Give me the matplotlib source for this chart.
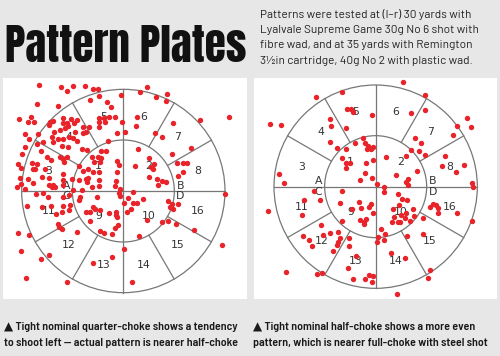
import numpy as np
import matplotlib
matplotlib.use("Agg")
import matplotlib.pyplot as plt
from matplotlib.patches import Circle

# ---------------- data: shot positions on each card (card units, y downward) ----
left_center = (370, 363)
right_center = (377, 350)
outer_r = 305
inner_r = 153

left_shots = [
    (118,45),(182,50),(200,62),(220,47),(254,47),(278,57),(294,57),(296,77),(270,90),(320,97),
    (332,110),(363,75),(110,103),(174,108),(440,52),(420,65),(467,80),(500,72),(498,93),
    (58,147),(93,140),(84,157),(102,157),(113,193),(74,193),(88,207),(150,155),(160,152),(148,165),
    (188,145),(190,160),(200,160),(205,168),(195,175),(180,180),(212,147),(232,150),(222,160),
    (250,170),(268,170),(258,185),(248,190),(224,187),(218,205),(208,200),(162,185),(155,200),
    (160,216),(174,206),(188,207),(298,145),(312,145),(296,155),(314,157),(328,142),(346,140),
    (298,172),(366,155),(350,190),(375,186),(325,212),
    (76,230),(66,253),(110,223),(130,215),(122,243),(140,262),(153,270),(185,228),(205,230),
    (180,262),(188,267),(202,262),(192,275),(232,212),(245,238),(260,240),(303,244),(319,244),
    (275,262),(293,262),(304,263),(300,275),(283,275),(55,282),(96,278),(110,283),(98,297),
    (106,297),(64,295),(135,296),(236,287),(263,297),(250,302),(280,305),(298,306),(352,272),(356,285),
    (60,325),(83,326),(64,343),(52,352),(75,357),(100,340),(126,322),(148,325),(148,345),(155,352),
    (165,350),(160,345),(188,313),(188,330),(190,345),(215,327),(258,328),(265,323),(262,335),
    (296,330),(276,350),(298,348),(236,330),(218,360),(245,360),(350,307),(348,333),(344,347),(360,358),
    (107,373),(128,370),(145,380),(188,380),(208,375),(240,382),(236,390),(82,407),(125,412),
    (153,407),(190,407),(210,405),(208,420),(290,380),(278,410),(285,418),(258,425),(270,425),
    (300,420),(168,433),(187,427),(326,430),(347,425),(347,435),(352,440),(357,368),(360,378),
    (174,463),(178,470),(185,478),(230,487),(270,452),(355,465),(345,475),(300,482),(313,490),
    (337,492),(53,490),(88,495),
    (63,542),(122,567),(148,555),(78,623),(200,637),(278,578),(337,562),(372,538),(396,637),
    (371,400),(380,425),(393,418),(398,400),(410,398),(428,386),(400,365),(385,383),(440,450),
    (418,497),(485,455),(505,453),(505,393),(515,402),(510,412),(518,418),(528,462),(534,402),
    (582,480),(665,525),(676,373),
    (410,140),(408,167),(415,238),(406,288),(447,263),(453,290),(458,297),(463,283),(446,322),
    (472,326),(473,345),(486,333),(497,337),(465,190),(486,200),(520,158),(516,253),(532,280),
    (534,318),(548,280),(550,305),(560,280),(573,233),(600,150),(686,142),
]

right_shots = [
    (459,36),(277,67),(197,80),(524,76),(60,162),(94,165),
    (290,116),(302,116),(310,126),(365,134),(288,175),
    (240,148),(242,167),(240,215),(260,235),
    (482,128),(524,121),
    (620,167),(652,144),(663,172),(608,194),
    (288,236),(316,220),(338,204),(346,218),(354,229),(362,236),(352,238),(369,232),(277,263),
    (288,278),(299,278),(288,293),(347,280),(369,270),(345,310),(330,331),(365,325),(381,343),
    (494,204),(514,218),(482,239),(508,244),(526,255),(467,257),(408,262),(500,304),(439,316),
    (475,328),(469,336),(475,346),
    (585,259),(575,288),(617,306),(642,286),(667,340),(670,350),
    (402,352),(402,365),
    (88,312),(103,338),(192,362),(211,390),(161,391),(155,436),(54,423),
    (275,362),(270,400),(307,416),(326,397),(332,415),(356,410),(364,402),(370,430),(276,452),
    (331,450),(342,455),(347,447),(342,461),
    (444,373),(457,388),(472,390),(447,405),(430,418),(432,440),(452,435),(469,430),(464,445),
    (479,452),(449,455),(427,456),(445,457),(488,418),(492,438),(518,445),
    (539,412),(549,402),(557,405),(565,413),(565,428),(620,430),(667,452),
    (212,466),(160,497),(177,511),(187,529),(220,494),(240,488),(264,486),(270,504),(265,516),
    (262,524),(249,542),(107,606),(200,613),(217,609),
    (297,504),(297,528),(317,559),(295,593),(310,626),(344,626),(357,614),(370,619),(365,636),
    (394,476),(404,493),(384,501),(402,511),(382,516),(422,548),(466,564),(440,673),
    (472,499),(519,491),(539,599),(534,624),
]

# segment numbering: outer ring, starting at 15 deg and going anticlockwise
outer_labels = ["8", "7", "6", "5", "4", "3", "11", "12", "13", "14", "15", "16"]
inner_labels = ["2", "1", "9", "10"]          # at 45, 135, 225, 315 deg
corner_labels = ["A", "B", "C", "D"]

title = "Pattern Plates"
intro_lines = [
    "Patterns were tested at (l–r) 30 yards with",
    "Lyalvale Supreme Game 30g No 6 shot with",
    "fibre wad, and at 35 yards with Remington",
    "3½in cartridge, 40g No 2 with plastic wad.",
]
caption_left = ["▲ Tight nominal quarter-choke shows a tendency",
                "to shoot left — actual pattern is nearer half-choke"]
caption_right = ["▲ Tight nominal half-choke shows a more even",
                 "pattern, which is nearer full-choke with steel shot"]

# ---------------- drawing ----------------
W, H = 500, 356
BG = "#e7e7e8"
LINE = "#777777"
DOT = "#e8232a"
TXT = "#333333"

TITLE_FONT = ["Anton", "Oswald", "League Gothic", "Fjalla One", "Barlow Condensed",
              "Roboto Condensed", "IBM Plex Sans Condensed", "DejaVu Sans"]
BODY_FONT = ["Barlow", "Lato", "DejaVu Sans"]
CAP_FONT = ["Barlow Semi Condensed", "Roboto Condensed", "IBM Plex Sans Condensed", "DejaVu Sans"]

fig = plt.figure(figsize=(W / 100, H / 100), dpi=100, facecolor=BG)


def panel(x0, y0, x1, y1):
    ax = fig.add_axes([x0 / W, 1 - y1 / H, (x1 - x0) / W, (y1 - y0) / H])
    ax.set_facecolor("white")
    for s in ax.spines.values():
        s.set_visible(False)
    ax.set_xticks([])
    ax.set_yticks([])
    return ax


def draw_plate(ax, center, shots, xlim, ylim):
    cx, cy = center
    ax.set_xlim(*xlim)
    ax.set_ylim(*ylim)
    lw = 0.9
    ax.add_patch(Circle((cx, cy), outer_r, fill=False, ec=LINE, lw=lw))
    ax.add_patch(Circle((cx, cy), inner_r, fill=False, ec=LINE, lw=lw))
    ax.plot([cx, cx], [cy - outer_r, cy + outer_r], color=LINE, lw=lw)
    ax.plot([cx - outer_r, cx + outer_r], [cy, cy], color=LINE, lw=lw)
    for a in [30, 60, 120, 150, 210, 240, 300, 330]:
        t = np.deg2rad(a)
        ax.plot([cx + inner_r * np.cos(t), cx + outer_r * np.cos(t)],
                [cy - inner_r * np.sin(t), cy - outer_r * np.sin(t)],
                color=LINE, lw=lw)
    fs = 7.8
    rm = 231
    for i, lab in enumerate(outer_labels):
        t = np.deg2rad(15 + 30 * i)
        ax.text(cx + rm * np.cos(t), cy - rm * np.sin(t), lab, ha="center",
                va="center", fontsize=fs, color=TXT, family="DejaVu Sans")
    ri = 106
    for i, lab in enumerate(inner_labels):
        t = np.deg2rad(45 + 90 * i)
        ax.text(cx + ri * np.cos(t), cy - ri * np.sin(t), lab, ha="center",
                va="center", fontsize=fs, color=TXT, family="DejaVu Sans")
    off = inner_r + 18
    for lab, (sx, sy) in zip(corner_labels, [(-1, -1), (1, -1), (-1, 1), (1, 1)]):
        ax.text(cx + sx * off, cy + sy * 16, lab, ha="center", va="center",
                fontsize=fs, color=TXT, family="DejaVu Sans")
    xs = [p[0] for p in shots]
    ys = [p[1] for p in shots]
    ax.scatter(xs, ys, s=15, color=DOT, lw=0, zorder=5)


axl = panel(3, 78, 247, 299)
draw_plate(axl, left_center, left_shots, (9, 741), (687, 24))
axr = panel(254, 78, 497, 299)
draw_plate(axr, right_center, right_shots, (12, 741), (687, 24))

# title
fig.text(5 / W, 1 - 62 / H, title, fontsize=31,
         family=TITLE_FONT, color="#111111", va="baseline", ha="left")

# intro text
for i, line in enumerate(intro_lines):
    fig.text(260 / W, 1 - (15 + 15.2 * i) / H, line, fontsize=8.5,
             family=BODY_FONT, color="#222222", va="center", ha="left")

# captions
for i, line in enumerate(caption_left):
    fig.text(4 / W, 1 - (327 + 16 * i) / H, line, fontsize=8.6, fontweight="semibold",
             family=CAP_FONT, color="#1a1a1a", va="center", ha="left")
for i, line in enumerate(caption_right):
    fig.text(253 / W, 1 - (327 + 16 * i) / H, line, fontsize=8.6, fontweight="semibold",
             family=CAP_FONT, color="#1a1a1a", va="center", ha="left")

fig.savefig("out.png", dpi=100, facecolor=BG)
